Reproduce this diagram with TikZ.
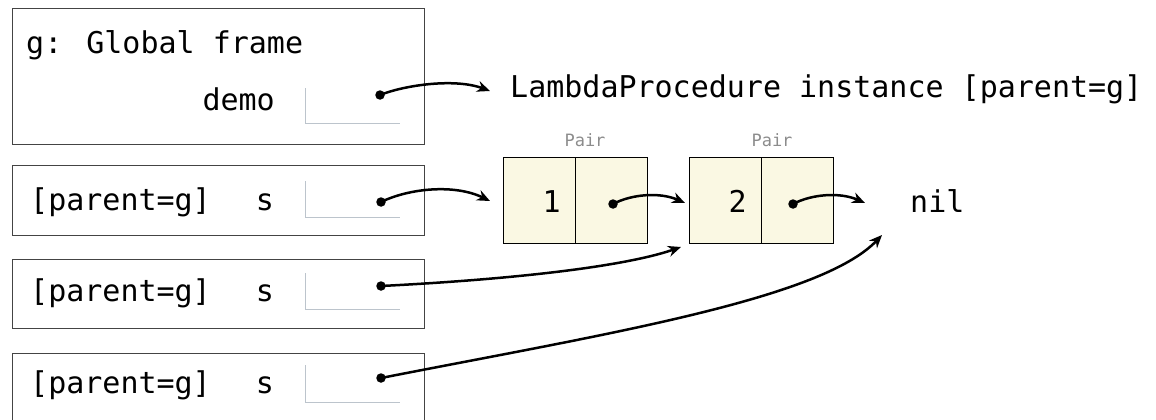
\documentclass[tikz,border=0pt]{standalone}
\usepackage{fontspec}
\newfontfamily\mono{DejaVu Sans Mono}
\usetikzlibrary{arrows.meta}
\definecolor{framecol}{HTML}{444444}
\definecolor{slotcol}{HTML}{BCC4CC}
\definecolor{pairfill}{HTML}{FAF8E3}
\definecolor{labelgray}{HTML}{8C8C8C}
\tikzset{
  framebox/.style={draw=framecol, line width=1.4pt, anchor=north west, inner sep=0pt, minimum width=412pt},
  cellbox/.style={draw=black, fill=pairfill, line width=1.3pt, anchor=north west, inner sep=0pt, minimum width=72pt, minimum height=86pt},
  bigtext/.style={font=\mono\fontsize{30}{36}\selectfont, inner sep=0pt},
  smalltext/.style={font=\mono\fontsize{17}{20}\selectfont, text=labelgray, inner sep=0pt, anchor=base},
  slotline/.style={draw=slotcol, line width=0.9pt},
  ptr/.style={line width=2.5pt, -{Stealth[length=13pt,width=11pt]}},
  dotmark/.style={circle, fill=black, inner sep=0pt, minimum size=9.5pt}
}
\begin{document}
\begin{tikzpicture}[x=1pt,y=-1pt]
\useasboundingbox (0,0) rectangle (1156,420);
% frames
\node[framebox, minimum height=136pt] (f1) at (12,8) {};
\node[framebox, minimum height=70pt] (f2) at (12,165) {};
\node[framebox, minimum height=69pt] (f3) at (12,259) {};
\node[framebox, minimum height=72pt] (f4) at (12,353) {};
% frame texts
\node[bigtext, anchor=base west] (t1) at (26,53) {g: Global frame};
\node[bigtext, anchor=base east] (v1) at (275,110) {demo};
\node[bigtext, anchor=base west] (t2) at (30,210) {[parent=g]};
\node[bigtext, anchor=base] (v2) at (265,210) {s};
\node[bigtext, anchor=base west] (t3) at (30,301) {[parent=g]};
\node[bigtext, anchor=base] (v3) at (265,301) {s};
\node[bigtext, anchor=base west] (t4) at (30,393) {[parent=g]};
\node[bigtext, anchor=base] (v4) at (265,393) {s};
% slots
\draw[slotline] (305,88) -- (305,123) -- (400,123);
\draw[slotline] (305,181) -- (305,217) -- (400,217);
\draw[slotline] (305,273) -- (305,309) -- (400,309);
\draw[slotline] (305,365) -- (305,402) -- (400,402);
% dots
\node[dotmark] (d1) at (380,95) {};
\node[dotmark] (d2) at (381,202) {};
\node[dotmark] (d3) at (381,286) {};
\node[dotmark] (d4) at (381,378) {};
% lambda
\node[bigtext, anchor=base west] (lam) at (510,97) {LambdaProcedure instance [parent=g]};
% pairs
\node[cellbox] (p1a) at (503,157) {};
\node[cellbox] (p1b) at (575,157) {};
\node[cellbox] (p2a) at (689,157) {};
\node[cellbox] (p2b) at (761,157) {};
\node[smalltext] (l1) at (585,146) {Pair};
\node[smalltext] (l2) at (772,146) {Pair};
\node[bigtext, anchor=base east] (n1) at (561,212) {1};
\node[bigtext, anchor=base east] (n2) at (747,212) {2};
\node[dotmark] (d5) at (613,204) {};
\node[dotmark] (d6) at (793,204) {};
\node[bigtext, anchor=base west] (nil) at (910,212) {nil};
% arrow targets
\coordinate (e1) at (490,91);
\coordinate (e2) at (490,201);
\coordinate (e3) at (681,247);
\coordinate (e4) at (882,235);
\coordinate (e5) at (685,203);
\coordinate (e6) at (865,203);
% pointers
\draw[ptr] (d1.center) .. controls (405,85) and (455,78) .. (e1);
\draw[ptr] (d2.center) .. controls (410,188) and (455,184) .. (e2);
\draw[ptr] (d3.center) .. controls (500,280) and (620,268) .. (e3);
\draw[ptr] (d4.center) .. controls (600,335) and (820,300) .. (e4);
\draw[ptr] (d5.center) .. controls (632,194) and (660,192) .. (e5);
\draw[ptr] (d6.center) .. controls (812,194) and (840,192) .. (e6);
\end{tikzpicture}
\end{document}
